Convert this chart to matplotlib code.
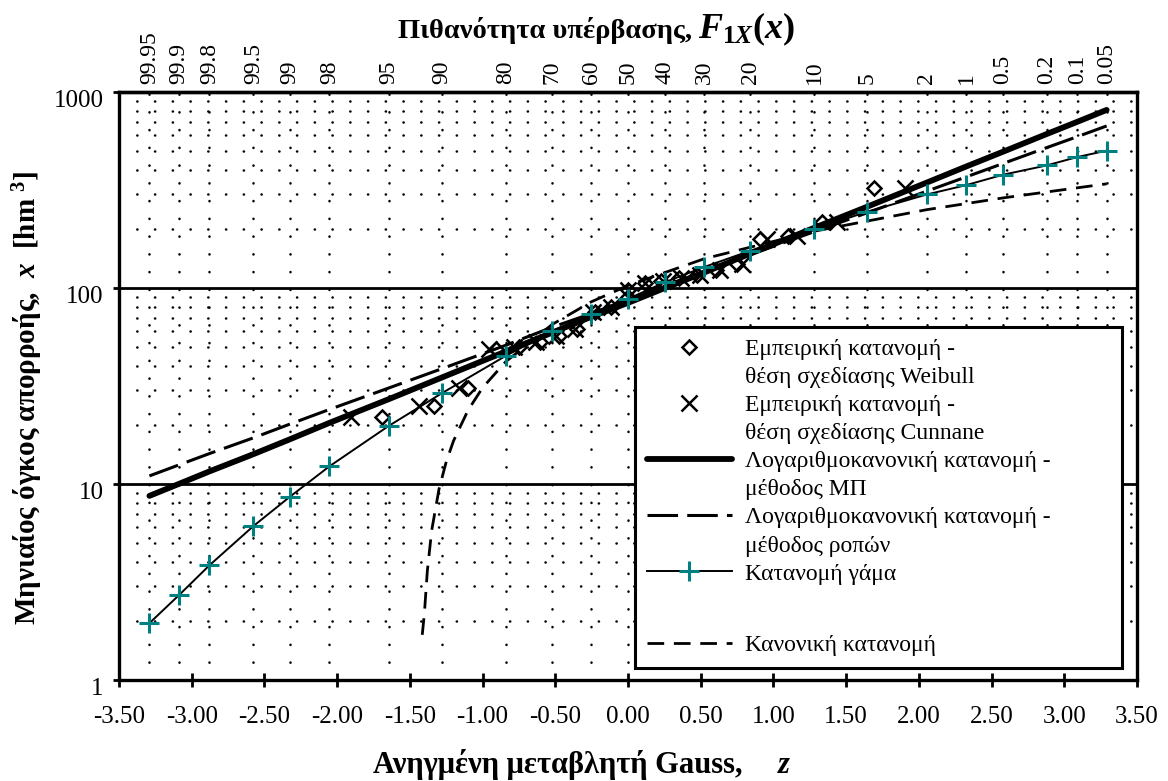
import matplotlib
matplotlib.use('Agg')
import matplotlib.pyplot as plt
from matplotlib.lines import Line2D
from matplotlib.transforms import ScaledTranslation

plt.rcParams['font.family'] = ['Liberation Serif', 'DejaVu Serif']
plt.rcParams['mathtext.fontset'] = 'custom'
plt.rcParams['mathtext.rm'] = 'Liberation Serif:bold'
plt.rcParams['mathtext.it'] = 'Liberation Serif:italic:bold'
plt.rcParams['mathtext.bf'] = 'Liberation Serif:bold'

# πιθανότητα υπέρβασης (%) και αντίστοιχη ανηγμένη μεταβλητή z
prob_labels = ['99.95', '99.9', '99.8', '99.5', '99', '98', '95', '90', '80', '70',
               '60', '50', '40', '30', '20', '10', '5', '2', '1', '0.5', '0.2', '0.1', '0.05']
prob_z = [-3.291, -3.090, -2.878, -2.576, -2.326, -2.054, -1.645, -1.282, -0.842, -0.524,
          -0.253, 0.0, 0.253, 0.524, 0.842, 1.282, 1.645, 2.054, 2.326, 2.576, 2.878, 3.090, 3.291]

# εμπειρική κατανομή (21 τιμές, ταξινομημένες)
weibull_z = [-1.691, -1.335, -1.097, -0.908, -0.748, -0.605, -0.473, -0.349, -0.230, -0.114, 0.0,
             0.114, 0.230, 0.349, 0.473, 0.605, 0.748, 0.908, 1.097, 1.335, 1.691]
cunnane_z = [-1.906, -1.436, -1.162, -0.955, -0.782, -0.631, -0.492, -0.362, -0.239, -0.119, 0.0,
             0.119, 0.239, 0.362, 0.492, 0.631, 0.782, 0.955, 1.162, 1.436, 1.906]
flow_sorted = [22, 25, 31, 49, 50, 53, 57, 62, 75, 80, 98,
               106, 109, 113, 116, 124, 132, 178, 185, 218, 325]

# θεωρητικές κατανομές στα σημεία του πλέγματος πιθανοτήτων
lognorm_ml = [8.7, 10.0, 11.6, 14.2, 16.9, 20.5, 27.1, 34.9, 47.4, 59.1, 71.3, 84,
              100, 120, 150, 203, 260, 345, 417, 495, 610, 705, 810]
lognorm_mom = [11.0, 12.5, 14.3, 17.2, 20.2, 24.0, 30.9, 38.7, 51, 63, 74, 87.5,
               103, 121, 148, 194, 242, 312, 369, 431, 520, 592, 671]
gamma_x = [1.95, 2.7, 3.85, 6.1, 8.6, 12.3, 19.8, 29, 45, 60, 74, 88,
           107, 128, 155, 200, 245, 300, 335, 378, 422, 466, 502]

# κανονική κατανομή (αρνητικές τιμές εκτός λογαριθμικού άξονα)
normal_z = [-1.415, -1.40, -1.38, -1.35, -1.30, -1.25, -1.20, -1.10, -1.00, -0.842,
            -0.524, -0.253, 0.0, 0.524, 1.282, 2.054, 2.576, 3.291]
normal_x = [1.7, 2.2, 3.6, 5.8, 9.4, 13, 16.6, 23.8, 31, 42,
            65, 85, 103, 141, 195, 251, 288, 340]

x_ticks = [-3.5, -3.0, -2.5, -2.0, -1.5, -1.0, -0.5, 0.0, 0.5, 1.0, 1.5, 2.0, 2.5, 3.0, 3.5]
x_tick_labels = ['-3.50', '-3.00', '-2.50', '-2.00', '-1.50', '-1.00', '-0.50', '0.00',
                 '0.50', '1.00', '1.50', '2.00', '2.50', '3.00', '3.50']
y_ticks = [1, 10, 100, 1000]
y_tick_labels = ['1', '10', '100', '1000']

teal = '#008080'

fig = plt.figure(figsize=(11.68, 7.81), dpi=100)
ax = fig.add_axes([0.1019, 0.1293, 0.8716, 0.7529])
ax.set_yscale('log')
ax.set_xlim(-3.5, 3.5)
ax.set_ylim(1, 1000)

# πλέγμα με τελείες
dot = (0, (0.1, 7))
minor_y = [m * 10 ** k for k in range(3) for m in range(2, 10)]
for v in minor_y:
	ax.axhline(v, color='black', lw=1.8, linestyle=dot, dash_capstyle='round', zorder=1)
for z in prob_z:
	ax.axvline(z, color='black', lw=1.8, linestyle=dot, dash_capstyle='round', zorder=1)
for v in [10, 100]:
	ax.axhline(v, color='black', lw=2.0, zorder=1.5)

# καμπύλες
ax.plot(normal_z, normal_x, color='black', lw=2.0, dashes=(6, 3.5), zorder=2)
h_mom, = ax.plot(prob_z, lognorm_mom, color='black', lw=2.2, dashes=(10, 3), zorder=3)
h_ml, = ax.plot(prob_z, lognorm_ml, color='black', lw=4.2, solid_capstyle='round', zorder=4)
h_weib, = ax.plot(weibull_z, flow_sorted, ls='none', marker='D', ms=7, mfc='none',
                  mec='black', mew=1.8, zorder=5)
h_cunn, = ax.plot(cunnane_z, flow_sorted, ls='none', marker='x', ms=11,
                  mec='black', mew=1.8, zorder=5)
h_gam, = ax.plot(prob_z, gamma_x, color='black', lw=1.4, marker='+', ms=14,
                 mec=teal, mew=2.2, zorder=6)
h_norm = Line2D([], [], color='black', lw=2.0, dashes=(6, 3.5))
blank = Line2D([], [], color='none')

# άξονες
for s in ax.spines.values():
	s.set_linewidth(2.4)
ax.set_xticks(x_ticks)
ax.set_xticklabels(x_tick_labels, fontsize=18)
ax.tick_params(axis='x', direction='inout', length=10, width=2, pad=14)
ax.set_yticks(y_ticks)
ax.set_yticklabels(y_tick_labels, fontsize=18)
ax.yaxis.set_minor_locator(plt.NullLocator())
ax.tick_params(axis='y', direction='out', length=4, width=2, pad=7)
for lbl in ax.get_yticklabels():
	lbl.set_transform(lbl.get_transform() + ScaledTranslation(0, -5 / 72, fig.dpi_scale_trans))

ax_top = ax.secondary_xaxis('top')
ax_top.set_xticks(prob_z)
ax_top.set_xticklabels(prob_labels, rotation=90, fontsize=17)
ax_top.tick_params(length=0, pad=6)
ax_top.spines['top'].set_linewidth(2.4)

# τίτλοι
fig.text(398 / 1168, 1 - 38 / 781, 'Πιθανότητα υπέρβασης,', ha='left', va='baseline',
         fontsize=20.5, fontweight='bold')
fig.text(698 / 1168, 1 - 38 / 781, '$F_{1X}(x)$', ha='left', va='baseline', fontsize=26)
fig.text(373 / 1168, 1 - 773 / 781, 'Ανηγμένη μεταβλητή Gauss,', ha='left', va='baseline',
         fontsize=22, fontweight='bold')
fig.text(778 / 1168, 1 - 773 / 781, 'z', ha='left', va='baseline', fontsize=22,
         fontstyle='italic', fontweight='bold')
fig.text(0.024, 1 - 625 / 781, 'Μηνιαίος όγκος απορροής,  $x$  [hm $^{3}$]', ha='center',
         va='bottom', rotation=90, fontsize=21, fontweight='bold')

# υπόμνημα
handles = [h_weib, blank, h_cunn, blank, h_ml, blank, h_mom, blank, h_gam, blank, h_norm]
labels = ['Εμπειρική κατανομή -', 'θέση σχεδίασης Weibull',
          'Εμπειρική κατανομή -', 'θέση σχεδίασης Cunnane',
          'Λογαριθμοκανονική κατανομή -', 'μέθοδος ΜΠ',
          'Λογαριθμοκανονική κατανομή -', 'μέθοδος ροπών',
          'Κατανομή γάμα', ' ', 'Κανονική κατανομή']
leg = ax.legend(handles, labels, loc='upper left', bbox_to_anchor=(0.507, 0.02, 0.478, 0.5803),
                mode='expand', borderaxespad=0, fontsize=17, handlelength=3.6,
                handletextpad=0.55, borderpad=0.5, labelspacing=0.275,
                fancybox=False, framealpha=1, edgecolor='black')
leg.get_frame().set_linewidth(2.2)
leg.get_texts()[9].set_fontsize(28)
leg.set_zorder(10)

fig.savefig('out.png', dpi=100)
